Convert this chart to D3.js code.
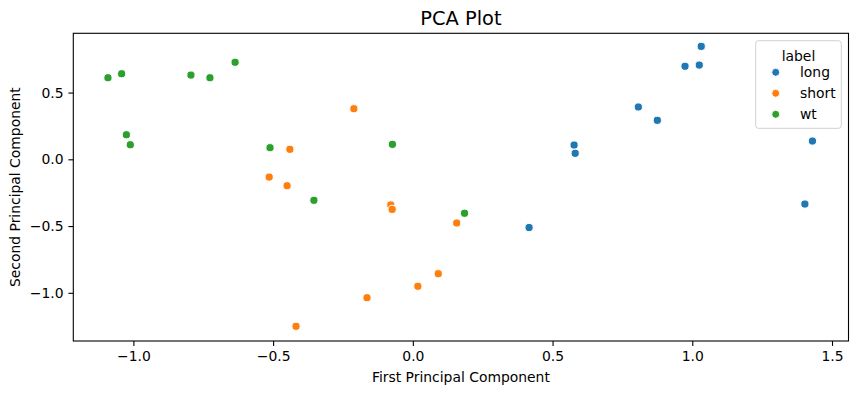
<!DOCTYPE html>
<html>
<head>
<meta charset="utf-8">
<script src="https://cdn.jsdelivr.net/npm/d3@7"></script>
<style>
  body { margin: 0; background: #fff; }
  text { font-family: "DejaVu Sans", sans-serif; fill: #000; }
</style>
</head>
<body>
<div id="canvas"></div>
<script>
// data
var labels = ['long', 'short', 'wt'];
var colors = ['#1f77b4', '#ff7f0e', '#2ca02c'];

var longPC1 = [1.032, 0.974, 1.025, 0.807, 0.875, 0.577, 0.581, 1.430, 1.403, 0.416];
var longPC2 = [0.846, 0.697, 0.706, 0.392, 0.292, 0.107, 0.045, 0.137, -0.335, -0.511];

var shortPC1 = [-0.211, -0.440, -0.514, -0.450, -0.079, -0.074, 0.157, 0.091, 0.018, -0.164, -0.418];
var shortPC2 = [0.379, 0.075, -0.133, -0.198, -0.342, -0.375, -0.477, -0.857, -0.951, -1.037, -1.251];

var wtPC1 = [-1.091, -1.042, -0.794, -0.726, -0.636, -1.025, -1.011, -0.511, -0.073, -0.354, 0.185];
var wtPC2 = [0.611, 0.641, 0.631, 0.611, 0.727, 0.184, 0.109, 0.087, 0.112, -0.307, -0.404];

var xTicks = [-1.0, -0.5, 0.0, 0.5, 1.0, 1.5];
var yTicks = [-1.0, -0.5, 0.0, 0.5];

var series = [
  {label: labels[0], xs: longPC1, ys: longPC2},
  {label: labels[1], xs: shortPC1, ys: shortPC2},
  {label: labels[2], xs: wtPC1, ys: wtPC2}
];

var W = 857, H = 394;
var m = {t: 33.3, r: 8.5, b: 53, l: 73.3},
    w = W - m.l - m.r,
    h = H - m.t - m.b;

var svg = d3.select('#canvas')
    .append('svg')
    .attr('width', W)
    .attr('height', H);

var plot = svg.append('g')
    .attr('transform', 'translate(' + m.l + ',' + m.t + ')');

var x = d3.scaleLinear().domain([-1.215, 1.559]).range([0, w]);
var y = d3.scaleLinear().domain([-1.361, 0.944]).range([h, 0]);
var color = d3.scaleOrdinal().domain(labels).range(colors);

var fmt = d3.format('.1f');

// axes
var xAxis = plot.append('g')
    .attr('transform', 'translate(0,' + h + ')')
    .call(d3.axisBottom(x).tickValues(xTicks).tickFormat(fmt).tickSize(4.9).tickPadding(4.9).tickSizeOuter(0));
var yAxis = plot.append('g')
    .call(d3.axisLeft(y).tickValues(yTicks).tickFormat(fmt).tickSize(4.9).tickPadding(4.9).tickSizeOuter(0));

[xAxis, yAxis].forEach(function(a){
  a.select('.domain').remove();
  a.selectAll('line').attr('stroke', '#000').attr('stroke-width', 1.1);
  a.selectAll('text').style('font-family', '"DejaVu Sans", sans-serif').style('font-size', '13.9px').attr('fill', '#000');
});

// frame
plot.append('rect')
    .attr('width', w).attr('height', h)
    .attr('fill', 'none').attr('stroke', '#000').attr('stroke-width', 1.1);

// points
var pts = [];
series.forEach(function(s){
  s.xs.forEach(function(v, i){ pts.push({label: s.label, x: v, y: s.ys[i]}); });
});

plot.selectAll('.dot')
    .data(pts)
    .enter().append('circle')
    .attr('class', 'dot')
    .attr('cx', function(d){ return x(d.x); })
    .attr('cy', function(d){ return y(d.y); })
    .attr('r', 4.1)
    .attr('fill', function(d){ return color(d.label); })
    .attr('stroke', '#fff')
    .attr('stroke-width', 1);

// titles
svg.append('text')
    .attr('x', m.l + w / 2).attr('y', 25)
    .attr('text-anchor', 'middle')
    .style('font-size', '19.4px')
    .text('PCA Plot');

svg.append('text')
    .attr('x', m.l + w / 2).attr('y', 381.5)
    .attr('text-anchor', 'middle')
    .style('font-size', '13.9px')
    .text('First Principal Component');

svg.append('text')
    .attr('transform', 'translate(20,' + (m.t + h / 2) + ') rotate(-90)')
    .attr('text-anchor', 'middle')
    .style('font-size', '13.9px')
    .text('Second Principal Component');

// legend
var leg = svg.append('g').attr('transform', 'translate(755.7,40.7)');
leg.append('rect')
    .attr('width', 85.6).attr('height', 87.6)
    .attr('rx', 2.8)
    .attr('fill', '#fff').attr('fill-opacity', 0.8)
    .attr('stroke', '#d0d0d0').attr('stroke-width', 1);
leg.append('text')
    .attr('x', 42.8).attr('y', 20.5)
    .attr('text-anchor', 'middle')
    .style('font-size', '13.9px')
    .text('label');
var items = leg.selectAll('.item')
    .data(labels)
    .enter().append('g')
    .attr('transform', function(d, i){ return 'translate(0,' + (31.6 + i * 21) + ')'; });
items.append('circle')
    .attr('cx', 20).attr('r', 4)
    .attr('fill', function(d){ return color(d); })
    .attr('stroke', '#fff').attr('stroke-width', 1);
items.append('text')
    .attr('x', 44.3).attr('dy', '0.35em')
    .style('font-size', '13.9px')
    .text(function(d){ return d; });
</script>
</body>
</html>
